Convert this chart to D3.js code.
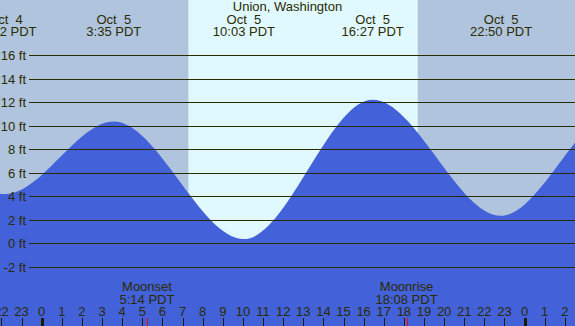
<!DOCTYPE html>
<html>
<head>
<meta charset="utf-8">
<script src="https://cdn.jsdelivr.net/npm/d3@7"></script>
<style>
    body { margin: 0; background: #fff; }
    svg text { font-family: "Liberation Sans", Arial, sans-serif; font-size: 13px; fill: #2b2b00; }
</style>
</head>
<body>
<div id="chart"></div>
<script>
// tide extremes (hours from Oct 5 00:00 PDT, feet)
const tideHours   = [-8.1, -1.8, 3.583, 10.05, 16.45, 22.833, 28.6, 35.0];
const tideHeights = [11.0, 4.2, 10.35, 0.37, 12.2, 2.35, 11.2, 0.5];

// labels for the extremes shown at the top
const labelHours = [-1.8, 3.583, 10.05, 16.45, 22.833];
const labelDays  = ['Oct  4', 'Oct  5', 'Oct  5', 'Oct  5', 'Oct  5'];
const labelTimes = ['22:12 PDT', '3:35 PDT', '10:03 PDT', '16:27 PDT', '22:50 PDT'];

const feetTicks = [-2, 0, 2, 4, 6, 8, 10, 12, 14, 16];
const hourTicks = [-2, -1, 0, 1, 2, 3, 4, 5, 6, 7, 8, 9, 10, 11, 12, 13, 14, 15, 16, 17, 18, 19, 20, 21, 22, 23, 24, 25, 26];

const sunrise = 7.29, sunset = 18.69;
const moonHours = [5.233, 18.133];
const moonNames = ['Moonset', 'Moonrise'];
const moonTimes = ['5:14 PDT', '18:08 PDT'];

const W = 575, H = 326;

const svg = d3.select('#chart')
    .append('svg')
    .attr('width', W)
    .attr('height', H);

const x = d3.scaleLinear().domain([0, 24]).range([41.7, 524.6]);
const y = d3.scaleLinear().domain([-2, 16]).range([267, 55]);

// night / day background
svg.append('rect')
    .attr('width', W).attr('height', H)
    .attr('fill', '#b0c4de');

svg.append('rect')
    .attr('x', x(sunrise)).attr('y', 0)
    .attr('width', x(sunset) - x(sunrise)).attr('height', H)
    .attr('fill', '#e0f8ff');

// tide area
const tide = tideHours.map((h, i) => ({ h: h, ft: tideHeights[i] }));

const area = d3.area()
    .x(d => x(d.h))
    .y0(H)
    .y1(d => y(d.ft))
    .curve(d3.curveMonotoneX);

svg.append('path')
    .datum(tide)
    .attr('d', area)
    .attr('fill', '#4361d8');

// horizontal lines + foot labels
svg.selectAll('.grid')
    .data(feetTicks)
    .enter()
    .append('line')
    .attr('x1', 29).attr('x2', W)
    .attr('y1', d => Math.round(y(d)) + 0.5)
    .attr('y2', d => Math.round(y(d)) + 0.5)
    .attr('stroke', '#2b2b00')
    .attr('stroke-width', 1);

svg.selectAll('.ft')
    .data(feetTicks)
    .enter()
    .append('text')
    .attr('x', 26)
    .attr('y', d => Math.round(y(d)) + 5)
    .attr('text-anchor', 'end')
    .text(d => d + ' ft');

// title and tide labels
svg.append('text')
    .attr('x', W / 2).attr('y', 11)
    .attr('text-anchor', 'middle')
    .text('Union, Washington');

labelHours.forEach((h, i) => {
    svg.append('text')
        .attr('x', x(h)).attr('y', 24)
        .attr('text-anchor', 'middle')
        .style('white-space', 'pre')
        .text(labelDays[i]);
    svg.append('text')
        .attr('x', x(h)).attr('y', 36)
        .attr('text-anchor', 'middle')
        .text(labelTimes[i]);
});

// hour axis
svg.selectAll('.tick')
    .data(hourTicks)
    .enter()
    .append('line')
    .attr('x1', d => Math.round(x(d)) + 0.5)
    .attr('x2', d => Math.round(x(d)) + 0.5)
    .attr('y1', 318).attr('y2', H)
    .attr('stroke', '#1a1a00')
    .attr('stroke-width', d => d % 24 === 0 ? 3 : 1);

svg.selectAll('.hour')
    .data(hourTicks)
    .enter()
    .append('text')
    .attr('x', d => x(d))
    .attr('y', 316)
    .attr('text-anchor', 'middle')
    .text(d => (d + 24) % 24);

// moon rise / set
moonHours.forEach((h, i) => {
    svg.append('line')
        .attr('x1', Math.round(x(h)) + 0.5).attr('x2', Math.round(x(h)) + 0.5)
        .attr('y1', 318).attr('y2', H)
        .attr('stroke', '#ff0000');
    svg.append('text')
        .attr('x', x(h)).attr('y', 291)
        .attr('text-anchor', 'middle')
        .text(moonNames[i]);
    svg.append('text')
        .attr('x', x(h)).attr('y', 304)
        .attr('text-anchor', 'middle')
        .text(moonTimes[i]);
});
</script>
</body>
</html>
